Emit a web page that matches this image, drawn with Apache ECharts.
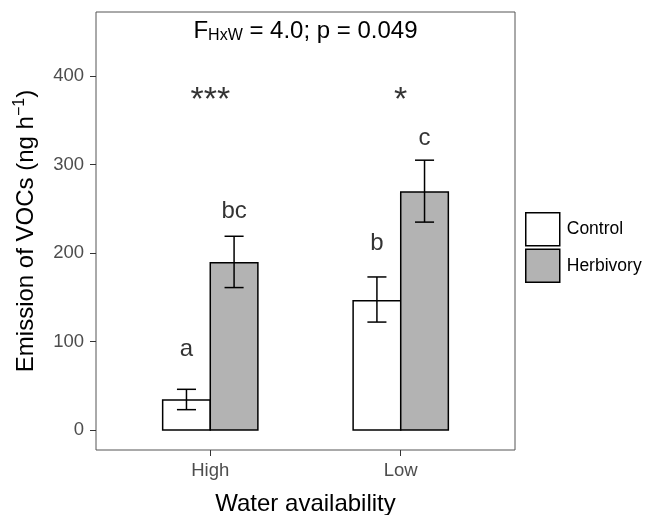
<!DOCTYPE html>
<html>
<head>
<meta charset="utf-8">
<script src="https://cdn.jsdelivr.net/npm/echarts@6/dist/echarts.min.js"></script>
<style>
  html, body { margin: 0; padding: 0; background: #fff; }
  #chart { width: 645px; height: 515px; }
</style>
</head>
<body>
<div id="chart"></div>
<script>
// categories on the x axis (placed at 1 and 2)
const categories = ['High', 'Low'];
const catPos = [1, 2];

// means and error bar ends
const controlMean = [34, 146];
const controlLo = [23, 122];
const controlHi = [46, 173];
const herbMean = [189, 269];
const herbLo = [161, 235];
const herbHi = [219, 305];

// letters above the bars
const controlLetters = ['a', 'b'];
const controlLetterY = [91, 211];
const herbLetters = ['bc', 'c'];
const herbLetterY = [247, 330];

// significance stars
const starLabels = ['***', '*'];
const starY = [372, 372];

const yTicks = [0, 100, 200, 300, 400];

const FONT = 'Liberation Sans, Arial, sans-serif';
const HALF = 0.125;   // half bar width, axis units
const CAP = 0.05;     // half whisker width

function barSeries(name, fill, offset, mean, lo, hi) {
  return {
    name: name,
    type: 'custom',
    itemStyle: { color: fill, borderColor: '#000', borderWidth: 1.5 },
    data: catPos.map((p, i) => [p, mean[i], lo[i], hi[i]]),
    renderItem: function (params, api) {
      const x = api.value(0) + offset;
      const a = api.coord([x - HALF, api.value(1)]);
      const b = api.coord([x + HALF, 0]);
      const top = api.coord([x, api.value(3)]);
      const bot = api.coord([x, api.value(2)]);
      const w = api.size([CAP, 0])[0];
      const lineStyle = { stroke: '#000', lineWidth: 1.5 };
      return {
        type: 'group',
        children: [
          { type: 'rect', shape: { x: a[0], y: a[1], width: b[0] - a[0], height: b[1] - a[1] },
            style: { fill: fill, stroke: '#000', lineWidth: 1.5 } },
          { type: 'line', shape: { x1: top[0], y1: top[1], x2: bot[0], y2: bot[1] }, style: lineStyle },
          { type: 'line', shape: { x1: top[0] - w, y1: top[1], x2: top[0] + w, y2: top[1] }, style: lineStyle },
          { type: 'line', shape: { x1: bot[0] - w, y1: bot[1], x2: bot[0] + w, y2: bot[1] }, style: lineStyle }
        ]
      };
    }
  };
}

function textSeries(xs, ys, labels, size) {
  return {
    type: 'scatter',
    symbolSize: 0,
    silent: true,
    data: xs.map((x, i) => ({ value: [x, ys[i]], label: { formatter: labels[i] } })),
    label: { show: true, position: 'inside', color: '#000', fontSize: size, fontFamily: FONT }
  };
}

const chart = echarts.init(document.getElementById('chart'));
chart.setOption({
  animation: false,
  grid: { left: 96, right: 130, top: 12, bottom: 65, outerBoundsMode: 'none', containLabel: false,
    show: true, borderColor: '#555', borderWidth: 1 },
  xAxis: {
    type: 'value', min: 0.4, max: 2.6,
    name: 'Water availability', nameLocation: 'middle', nameGap: 42,
    nameTextStyle: { fontSize: 24, color: '#000', fontFamily: FONT },
    axisLine: { show: false, onZero: false },
    splitLine: { show: false },
    axisTick: { show: true, length: 6, customValues: catPos, lineStyle: { color: '#333' } },
    axisLabel: { customValues: catPos, margin: 11, fontSize: 18.5, color: '#4d4d4d', fontFamily: FONT,
      formatter: v => categories[catPos.indexOf(Math.round(v))] }
  },
  yAxis: {
    type: 'value', min: -22.6, max: 472.5,
    name: '{t|Emission of VOCs (ng h}{s|−1}{t|)}', nameLocation: 'middle', nameGap: 56,
    nameTextStyle: { fontSize: 24, color: '#000', fontFamily: FONT,
      rich: { t: { fontSize: 24, fontFamily: FONT, color: '#000' },
              s: { fontSize: 16, fontFamily: FONT, color: '#000', padding: [0, 0, 12, 0] } } },
    axisLine: { show: false, onZero: false },
    splitLine: { show: false },
    axisTick: { show: true, length: 6, customValues: yTicks, lineStyle: { color: '#333' } },
    axisLabel: { customValues: yTicks, margin: 12, fontSize: 18.5, color: '#4d4d4d', fontFamily: FONT }
  },
  legend: {
    orient: 'vertical', left: 525, top: 212, padding: 0,
    itemWidth: 34, itemHeight: 33, itemGap: 2,
    icon: 'rect',
    textStyle: { fontSize: 17.5, color: '#000', fontFamily: FONT, padding: [0, 0, 0, 2] },
    data: [
      { name: 'Control', itemStyle: { color: '#fff', borderColor: '#000', borderWidth: 1.5 } },
      { name: 'Herbivory', itemStyle: { color: '#b3b3b3', borderColor: '#000', borderWidth: 1.5 } }
    ]
  },
  graphic: [{
    type: 'text', x: 305.5, y: 31,
    style: {
      text: '{t|F}{s|HxW}{t| = 4.0; p = 0.049}',
      align: 'center', verticalAlign: 'middle',
      rich: { t: { fontSize: 24, fontFamily: FONT, fill: '#000' },
              s: { fontSize: 16, fontFamily: FONT, fill: '#000', padding: [10, 0, 0, 0] } }
    }
  }],
  series: [
    barSeries('Control', '#ffffff', -HALF, controlMean, controlLo, controlHi),
    barSeries('Herbivory', '#b3b3b3', HALF, herbMean, herbLo, herbHi),
    textSeries(catPos.map(p => p - HALF), controlLetterY, controlLetters, 24),
    textSeries(catPos.map(p => p + HALF), herbLetterY, herbLetters, 24),
    textSeries(catPos, starY, starLabels, 34)
  ]
});
</script>
</body>
</html>
